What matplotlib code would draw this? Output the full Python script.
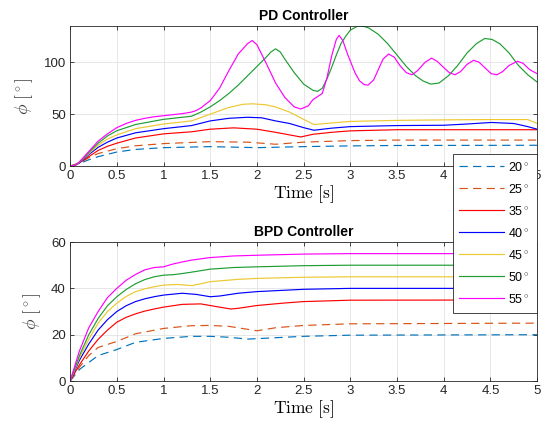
import numpy as np
import matplotlib
matplotlib.use('Agg')
import matplotlib.pyplot as plt

plt.rcParams['font.family'] = ['Liberation Sans', 'DejaVu Sans']
plt.rcParams['mathtext.fontset'] = 'cm'

# %% data (time [s], angle [deg])
labels = ['20$^\\circ$', '25$^\\circ$', '35$^\\circ$', '40$^\\circ$',
          '45$^\\circ$', '50$^\\circ$', '55$^\\circ$']
colors = ['#0072BD', '#D95319', '#FF0000', '#0000FF', '#EDC830', '#1E9E32', '#FF00FF']
styles = ['--', '--', '-', '-', '-', '-', '-']

# PD controller
pd_t20 = [0, 0.1, 0.2, 0.3, 0.5, 0.7, 1.0, 1.5, 2.0, 2.5, 3.0, 3.5, 5.0]
pd_y20 = [0, 2.5, 6, 9, 13.5, 16, 17.7, 18.7, 17.7, 18.7, 19.4, 19.8, 20]
pd_t25 = [0, 0.1, 0.2, 0.3, 0.5, 0.7, 1.0, 1.5, 1.9, 2.2, 2.5, 3.0, 3.5, 4.0, 5.0]
pd_y25 = [0, 3, 8, 12, 16.7, 19.5, 21.6, 23.5, 23, 21, 23, 24.5, 25, 25, 25]
pd_t35 = [0, 0.05, 0.1, 0.2, 0.3, 0.4, 0.5, 0.7, 1.0, 1.3, 1.5, 1.75, 2.0, 2.2, 2.35,
          2.47, 2.6, 2.8, 3.0, 3.5, 4.0, 5.0]
pd_y35 = [0, 0.5, 3, 9, 15, 19, 22, 27, 31, 33, 35.5, 36.8, 35.5, 32.5, 30,
          28, 30.6, 32.5, 33.9, 35, 35, 35]
pd_t40 = [0, 0.05, 0.1, 0.2, 0.3, 0.4, 0.5, 0.7, 1.0, 1.3, 1.5, 1.7, 1.9, 2.05, 2.2,
          2.35, 2.5, 2.61, 2.8, 3.0, 3.5, 4.0, 4.25, 4.51, 4.75, 4.9, 5.0]
pd_y40 = [0, 0.5, 3, 11, 18, 23, 27, 32, 36, 39, 43.5, 46, 47, 46.5, 43.5,
          41, 37, 34.5, 36.5, 38, 39, 39.3, 40.5, 42, 41, 38, 35.5]
pd_t45 = [0, 0.05, 0.1, 0.2, 0.3, 0.4, 0.5, 0.7, 1.0, 1.3, 1.5, 1.7, 1.85, 1.95, 2.1,
          2.2, 2.35, 2.5, 2.61, 2.8, 3.0, 3.5, 4.0, 4.5, 4.9, 5.0]
pd_y45 = [0, 0.5, 3.5, 12, 20, 26, 30, 36, 40.5, 43.5, 50, 56.5, 59.5, 60, 59,
          57, 52, 45, 40, 41.5, 43, 44, 44.5, 44.8, 44.8, 41]
pd_t50 = [0, 0.05, 0.1, 0.2, 0.3, 0.4, 0.5, 0.7, 1.0, 1.2, 1.3, 1.4, 1.5, 1.6, 1.7,
          1.8, 1.9, 2.0, 2.1, 2.15, 2.2, 2.25, 2.3, 2.4, 2.5, 2.6, 2.65, 2.7, 2.75,
          2.8, 2.85, 2.9, 2.95, 3.0, 3.08, 3.15, 3.2, 3.3, 3.4, 3.5, 3.6, 3.7, 3.78,
          3.86, 3.95, 4.05, 4.15, 4.25, 4.35, 4.44, 4.52, 4.6, 4.7, 4.8, 4.9, 5.0]
pd_y50 = [0, 0.5, 4, 13, 22, 29, 34, 40, 45, 47, 48, 52, 57, 63, 70,
          78, 87, 96, 105, 110, 113, 110, 103, 90, 79, 73, 72, 75, 84,
          95, 107, 118, 125, 131, 135, 134.5, 133, 127, 118, 107, 96, 87, 82,
          79, 80, 87, 97, 109, 118, 123, 122, 118, 109, 97, 88, 81]
pd_t55 = [0, 0.05, 0.1, 0.2, 0.3, 0.4, 0.5, 0.6, 0.7, 0.8, 0.9, 1.0, 1.1, 1.2, 1.3,
          1.35, 1.4, 1.5, 1.6, 1.7, 1.8, 1.9, 1.95, 2.0, 2.1, 2.2, 2.3, 2.4, 2.47,
          2.55, 2.6, 2.65, 2.7, 2.75, 2.8, 2.85, 2.88, 2.92, 2.97, 3.05, 3.1, 3.15,
          3.19, 3.25, 3.3, 3.35, 3.41, 3.47, 3.53, 3.6, 3.66, 3.72, 3.8, 3.87, 3.93,
          4.0, 4.06, 4.12, 4.18, 4.25, 4.32, 4.38, 4.45, 4.51, 4.57, 4.63, 4.7,
          4.79, 4.85, 4.92, 5.0]
pd_y55 = [0, 0.5, 4, 14, 24, 31, 37, 41, 44, 46, 47.5, 48.5, 49.5, 50.5, 52,
          53.5, 56, 63, 75, 92, 108, 118, 121, 117, 99, 80, 66, 57, 55,
          58, 64, 67, 70, 85, 106, 122, 126, 121, 108, 90, 82, 78.5,
          78, 83, 93, 103, 108, 105, 97, 90, 88, 92, 100, 104, 101,
          95, 90, 88, 91, 98, 102, 100, 94, 89, 88, 91, 97,
          101, 99, 93, 89]

# BPD controller
bpd_t20 = [0, 0.1, 0.2, 0.3, 0.5, 0.7, 1.0, 1.3, 1.5, 1.7, 1.9, 2.0, 2.5, 3.0, 5.0]
bpd_y20 = [0, 5, 8, 11, 13.6, 16.7, 18.4, 19.3, 19.3, 18.9, 18.1, 18.3, 19.3, 19.8, 20]
bpd_t25 = [0, 0.1, 0.2, 0.3, 0.5, 0.7, 1.0, 1.3, 1.5, 1.7, 2.0, 2.2, 2.5, 3.0, 5.0]
bpd_y25 = [0, 6, 11, 14.5, 17.1, 20.4, 22.7, 23.9, 24, 23.6, 21.7, 23, 24, 24.7, 25]
bpd_t35 = [0, 0.1, 0.2, 0.3, 0.4, 0.5, 0.6, 0.7, 0.8, 0.9, 1.0, 1.2, 1.4, 1.5, 1.6,
           1.72, 1.8, 2.0, 2.3, 2.5, 3.0, 5.0]
bpd_y35 = [0, 7, 13, 18, 22, 25.4, 27.5, 29, 30.2, 31.1, 31.9, 33.1, 33.3, 32.6, 31.9,
           31.1, 31.4, 32.6, 33.7, 34.3, 34.9, 35]
bpd_t40 = [0, 0.1, 0.2, 0.3, 0.4, 0.5, 0.6, 0.7, 0.8, 0.9, 1.0, 1.2, 1.35, 1.5, 1.6,
           1.8, 2.0, 2.5, 3.0, 5.0]
bpd_y40 = [0, 9, 16, 22, 26.5, 30, 32.5, 34.3, 35.5, 36.4, 37.1, 37.9, 37.4, 36.4, 36.7,
           37.9, 38.6, 39.6, 40, 40]
bpd_t45 = [0, 0.1, 0.2, 0.3, 0.4, 0.5, 0.6, 0.7, 0.8, 0.9, 1.0, 1.15, 1.3, 1.4, 1.5,
           1.8, 2.0, 2.5, 3.0, 5.0]
bpd_y45 = [0, 10, 18, 25, 30, 33.6, 36.5, 38.6, 39.8, 40.7, 41.4, 41.7, 41.2, 42, 42.9,
           43.9, 44.3, 44.8, 45, 45]
bpd_t50 = [0, 0.1, 0.2, 0.3, 0.4, 0.5, 0.6, 0.7, 0.8, 0.9, 1.0, 1.1, 1.2, 1.3, 1.5,
           1.75, 2.0, 2.5, 3.0, 5.0]
bpd_y50 = [0, 11, 20, 27, 32.5, 36.4, 39.5, 42, 43.8, 45, 45.7, 45.9, 46.4, 47, 48.3,
           49, 49.3, 49.8, 50, 50]
bpd_t55 = [0, 0.1, 0.2, 0.3, 0.4, 0.5, 0.6, 0.7, 0.8, 0.9, 1.0, 1.1, 1.2, 1.3, 1.5,
           1.75, 2.0, 2.5, 3.0, 5.0]
bpd_y55 = [0, 13, 23, 30, 36, 40, 43.5, 46, 48, 49, 49.3, 50.5, 51.4, 52.2, 53.3,
           54, 54.3, 54.8, 55, 55]

pd_series = [(pd_t20, pd_y20), (pd_t25, pd_y25), (pd_t35, pd_y35), (pd_t40, pd_y40),
             (pd_t45, pd_y45), (pd_t50, pd_y50), (pd_t55, pd_y55)]
bpd_series = [(bpd_t20, bpd_y20), (bpd_t25, bpd_y25), (bpd_t35, bpd_y35), (bpd_t40, bpd_y40),
              (bpd_t45, bpd_y45), (bpd_t50, bpd_y50), (bpd_t55, bpd_y55)]

# %%
fig = plt.figure(figsize=(5.52, 4.33), dpi=100)
ax1 = fig.add_axes([0.127, 0.6166, 0.846, 0.3233])
ax2 = fig.add_axes([0.127, 0.120, 0.846, 0.321])


def style_axis(ax, title, ylim, yticks):
    ax.set_xlim(0, 5)
    ax.set_ylim(*ylim)
    ax.set_xticks(np.arange(0, 5.01, 0.5))
    ax.set_xticklabels(['0', '0.5', '1', '1.5', '2', '2.5', '3', '3.5', '4', '4.5', '5'])
    ax.set_yticks(yticks)
    ax.tick_params(direction='in', length=3, width=0.6, labelsize=9.5,
                   colors='#262626', top=True, right=True, pad=3)
    ax.grid(True, color='#E3E3E3', linewidth=0.6)
    ax.set_axisbelow(True)
    for s in ax.spines.values():
        s.set_color('#262626')
        s.set_linewidth(0.6)
    ax.set_title(title, fontsize=10, fontweight='bold', pad=4)
    ax.set_xlabel(r'$\mathrm{Time\ [s]}$', fontsize=12.5, labelpad=1)
    ax.set_ylabel(r'$\phi\ [^\circ]$', fontsize=12.5, color='#404040', labelpad=6)


for ax, series in [(ax1, pd_series), (ax2, bpd_series)]:
    for (t, y), lab, c, ls in zip(series, labels, colors, styles):
        line, = ax.plot(t, y, ls, color=c, lw=0.85, label=lab)
        if ls == '--':
            line.set_dashes((7, 4.5))

style_axis(ax1, 'PD Controller', (0, 135), [0, 50, 100])
style_axis(ax2, 'BPD Controller', (0, 60), [0, 20, 40, 60])

handles, labs = ax1.get_legend_handles_labels()
leg = fig.legend(handles, labs, loc='upper right', bbox_to_anchor=(0.984, 0.659),
                 fontsize=9, handlelength=3.6, labelspacing=0.72, borderpad=0.55,
                 handletextpad=0.3, fancybox=False, framealpha=1, edgecolor='#262626')
leg.get_frame().set_linewidth(0.6)

fig.savefig('out.png', dpi=100)
